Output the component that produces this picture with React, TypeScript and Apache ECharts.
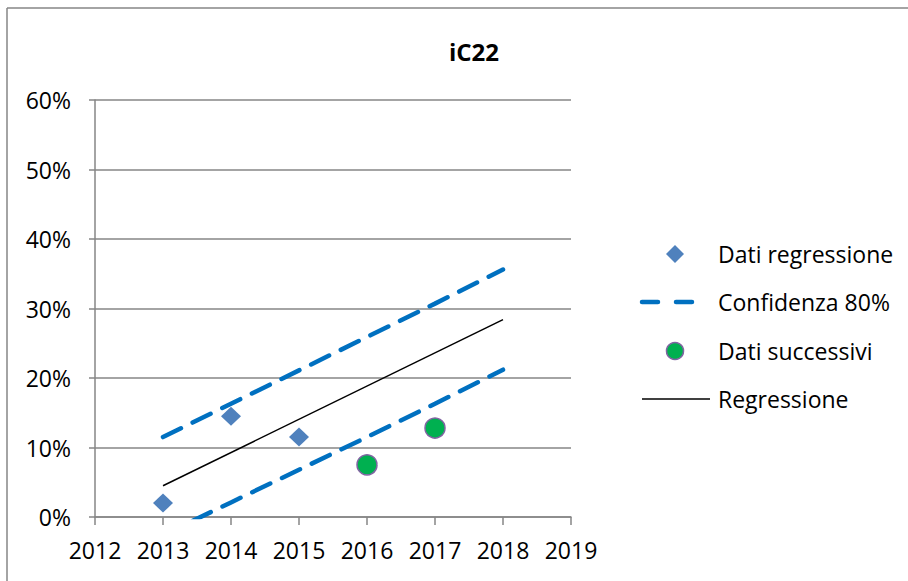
import React, { useEffect, useRef } from "react";
import * as echarts from "echarts";

const years = [2013, 2014, 2015, 2016, 2017, 2018];
const regressionYears = [2013, 2014, 2015];
const regressionData = [0.02, 0.145, 0.115];
const laterYears = [2016, 2017];
const laterData = [0.075, 0.128];
const upperConf = [0.115, 0.163, 0.211, 0.259, 0.307, 0.356];
const lowerConf = [-0.026, 0.021, 0.068, 0.115, 0.163, 0.212];
const lineYears = [2013, 2018];
const lineValues = [0.045, 0.284];
const legendNames = ["Dati regressione", "Confidenza 80%", "Dati successivi", "Regressione"];

const FONT = "'Open Sans', sans-serif";
const GRAY = "#868686";
const BLUE = "#0070C0";
const DIAMOND = "#4F81BD";
const GREEN = "#00B050";
const PURPLE = "#8064A2";

export default function App() {
  const ref = useRef<HTMLDivElement>(null);
  useEffect(() => {
    if (!ref.current) return;
    const chart = echarts.init(ref.current, null, { renderer: "svg" });
    const dashStyle = {
      color: BLUE,
      width: 4.5,
      type: [20, 13] as any,
      cap: "round" as any,
    };
    const rowY = [254, 302, 351, 399];
    const textX = 718;
    const legendGraphics: any[] = [
      {
        type: "polygon",
        shape: { points: [[675, rowY[0] - 9], [684, rowY[0]], [675, rowY[0] + 9], [666, rowY[0]]] },
        style: { fill: DIAMOND },
      },
      {
        type: "line",
        shape: { x1: 642, y1: rowY[1], x2: 696, y2: rowY[1] },
        style: { stroke: BLUE, lineWidth: 4.5, lineDash: [16, 18], lineCap: "round" },
      },
      {
        type: "circle",
        shape: { cx: 675, cy: rowY[2], r: 8.5 },
        style: { fill: GREEN, stroke: PURPLE, lineWidth: 1.5 },
      },
      {
        type: "line",
        shape: { x1: 642, y1: rowY[3], x2: 710, y2: rowY[3] },
        style: { stroke: "#000", lineWidth: 1.5 },
      },
      ...legendNames.map((n, i) => ({
        type: "text",
        x: textX,
        y: rowY[i],
        style: {
          text: n,
          fontFamily: FONT,
          fontSize: 23,
          fill: "#000",
          textVerticalAlign: "middle",
          verticalAlign: "middle",
        },
      })),
    ];
    chart.setOption({
      animation: false,
      backgroundColor: "#fff",
      title: {
        text: "iC22",
        left: 469,
        textAlign: "center",
        top: 34,
        textStyle: { fontFamily: FONT, fontWeight: "bold", fontSize: 24, color: "#000" },
      },
      graphic: [
        { type: "line", shape: { x1: 7, y1: 8, x2: 908, y2: 8 }, style: { stroke: GRAY, lineWidth: 1.5 } },
        { type: "line", shape: { x1: 7, y1: 8, x2: 7, y2: 581 }, style: { stroke: GRAY, lineWidth: 1.5 } },
        ...legendGraphics,
      ],
      grid: { left: 95, right: 337, top: 100, bottom: 64 },
      legend: { show: false },
      xAxis: {
        type: "value",
        min: 2012,
        max: 2019,
        interval: 1,
        axisLine: { show: true, lineStyle: { color: GRAY, width: 1.5 } },
        axisTick: { show: true, length: 8, lineStyle: { color: GRAY, width: 1.5 } },
        splitLine: { show: false },
        axisLabel: { color: "#000", fontFamily: FONT, fontSize: 23, margin: 21, formatter: (v: number) => String(v) },
      },
      yAxis: {
        type: "value",
        min: 0,
        max: 0.6,
        interval: 0.1,
        axisLine: { show: true, lineStyle: { color: GRAY, width: 1.5 } },
        axisTick: { show: true, length: 6, lineStyle: { color: GRAY, width: 1.5 } },
        splitLine: { show: true, lineStyle: { color: GRAY, width: 1.5 } },
        axisLabel: {
          color: "#000",
          fontFamily: FONT,
          fontSize: 23,
          margin: 24,
          formatter: (v: number) => Math.round(v * 100) + "%",
        },
      },
      series: [
        {
          name: legendNames[0],
          type: "scatter",
          symbol: "diamond",
          symbolSize: [20, 19],
          itemStyle: { color: DIAMOND, opacity: 1 },
          data: regressionYears.map((y, i) => [y, regressionData[i]]),
          z: 5,
        },
        {
          name: legendNames[1],
          type: "line",
          showSymbol: false,
          symbol: "none",
          clip: true,
          lineStyle: dashStyle,
          itemStyle: { color: BLUE },
          data: years.map((y, i) => [y, upperConf[i]]),
        },
        {
          name: legendNames[1],
          type: "line",
          showSymbol: false,
          symbol: "none",
          clip: true,
          lineStyle: dashStyle,
          itemStyle: { color: BLUE },
          data: years.map((y, i) => [y, lowerConf[i]]),
        },
        {
          name: legendNames[2],
          type: "scatter",
          symbol: "circle",
          symbolSize: 20,
          itemStyle: { color: GREEN, borderColor: PURPLE, borderWidth: 1.5, opacity: 1 },
          data: laterYears.map((y, i) => [y, laterData[i]]),
          z: 5,
        },
        {
          name: legendNames[3],
          type: "line",
          showSymbol: false,
          symbol: "none",
          lineStyle: { color: "#000", width: 1.5 },
          itemStyle: { color: "#000" },
          data: lineYears.map((y, i) => [y, lineValues[i]]),
        },
      ],
    });
    return () => chart.dispose();
  }, []);
  return (
    <div
      ref={ref}
      style={{ position: "absolute", left: 0, top: 0, width: 908, height: 581 }}
    />
  );
}
